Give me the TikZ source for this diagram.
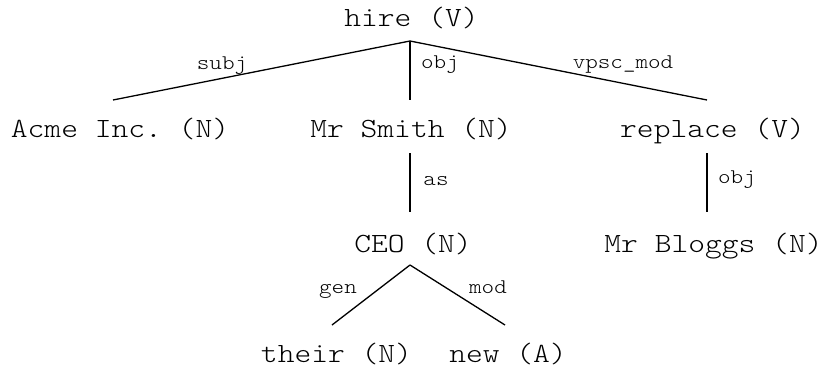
\documentclass[tikz,border=0pt]{standalone}
\usepackage{fontspec}
\setmonofont{Latin Modern Mono Light}[FakeStretch=1.15]
\begin{document}
\begin{tikzpicture}[x=1pt,y=-1pt,
  word/.style={anchor=base,inner sep=0pt,font=\ttfamily\fontsize{27.8}{28}\selectfont},
  rel/.style={anchor=base,inner sep=0pt,font=\ttfamily\fontsize{20.8}{21}\selectfont},
  edge/.style={draw=black,line width=1.3pt}]
\useasboundingbox (0,0) rectangle (822,368);
% words
\node[word] (hire) at (411.5,26) {hire (V)};
\node[word] (acme) at (120,137) {Acme Inc. (N)};
\node[word] (smith) at (411,137) {Mr Smith (N)};
\node[word] (replace) at (712.5,137) {replace (V)};
\node[word] (ceo) at (413,252) {CEO (N)};
\node[word] (bloggs) at (713.5,252) {Mr Bloggs (N)};
\node[word] (their) at (336.5,362) {their (N)};
\node[word] (new) at (508,362) {new (A)};
% connector ends
\coordinate (hireB) at (410,41);
\coordinate (acmeT) at (113,100);
\coordinate (smithT) at (410,100);
\coordinate (replaceT) at (707,100);
\coordinate (smithB) at (410,153);
\coordinate (ceoT) at (410,212);
\coordinate (replaceB) at (707,153);
\coordinate (bloggsT) at (707,212);
\coordinate (ceoB) at (410,265);
\coordinate (theirT) at (332,325);
\coordinate (newT) at (505,325);
% connectors
\draw[edge] (hireB) -- (acmeT);
\draw[edge] (hireB) -- (smithT);
\draw[edge] (hireB) -- (replaceT);
\draw[edge] (smithB) -- (ceoT);
\draw[edge] (replaceB) -- (bloggsT);
\draw[edge] (ceoB) -- (theirT);
\draw[edge] (ceoB) -- (newT);
% labels
\node[rel] (lsubj) at (222,69) {subj};
\node[rel] (lobj) at (440,68) {obj};
\node[rel] (lvpsc) at (623,68) {vpsc\_mod};
\node[rel] (las) at (436,185) {as};
\node[rel] (lobj2) at (737,183) {obj};
\node[rel] (lgen) at (338,293) {gen};
\node[rel] (lmod) at (488,293) {mod};
\end{tikzpicture}
\end{document}
